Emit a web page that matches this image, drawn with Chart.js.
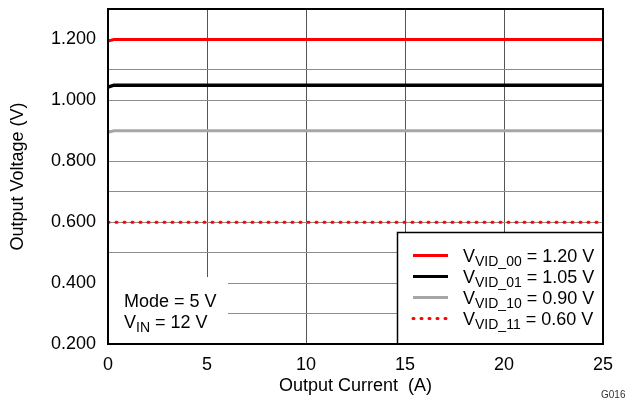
<!DOCTYPE html>
<html>
<head>
<meta charset="utf-8">
<script src="https://cdn.jsdelivr.net/npm/chart.js@4/dist/chart.umd.min.js"></script>
<style>
  html, body { margin: 0; padding: 0; background: #fff; }
  #wrap { width: 626px; height: 402px; position: relative; }
</style>
</head>
<body>
<div id="wrap"><canvas id="c" width="626" height="402"></canvas></div>
<script>
// Output current sample points (A)
const currents = [0, 0.3, 1, 5, 10, 15, 20, 25];
// Output voltage (V) for each VID setting
const vid00 = [1.195, 1.2, 1.2, 1.2, 1.2, 1.2, 1.2, 1.2];
const vid01 = [1.044, 1.05, 1.05, 1.05, 1.05, 1.05, 1.05, 1.05];
const vid10 = [0.895, 0.9, 0.9, 0.9, 0.9, 0.9, 0.9, 0.9];
const vid11 = [0.6, 0.6, 0.6, 0.6, 0.6, 0.6, 0.6, 0.6];

const seriesNames = [
  { main: 'V', sub: 'VID_00', rest: ' = 1.20 V' },
  { main: 'V', sub: 'VID_01', rest: ' = 1.05 V' },
  { main: 'V', sub: 'VID_10', rest: ' = 0.90 V' },
  { main: 'V', sub: 'VID_11', rest: ' = 0.60 V' }
];
const conditionLines = [
  { main: 'Mode = 5 V', sub: '', rest: '' },
  { main: 'V', sub: 'IN', rest: ' = 12 V' }
];

const FONT = '"Liberation Sans", Arial, sans-serif';

function pts(ys) { return currents.map((x, i) => ({ x: x, y: ys[i] })); }

function drawRich(ctx, x, y, item, size, subSize) {
  ctx.textBaseline = 'alphabetic';
  ctx.textAlign = 'left';
  ctx.fillStyle = '#000';
  ctx.font = size + 'px ' + FONT;
  ctx.fillText(item.main, x, y);
  x += ctx.measureText(item.main).width;
  if (item.sub) {
    ctx.font = subSize + 'px ' + FONT;
    ctx.fillText(item.sub, x, y + 4);
    x += ctx.measureText(item.sub).width;
  }
  if (item.rest) {
    ctx.font = size + 'px ' + FONT;
    ctx.fillText(item.rest, x, y);
  }
}

const panels = {
  id: 'panels',
  beforeDatasetsDraw(chart) {
    const ctx = chart.ctx;
    const a = chart.chartArea;
    ctx.save();
    // condition note background
    ctx.fillStyle = '#fff';
    ctx.fillRect(a.left, 277, 120, a.bottom - 277);
    // legend box
    ctx.fillRect(397, 232, a.right - 397, a.bottom - 232);
    ctx.restore();
  },
  afterDatasetsDraw(chart) {
    const ctx = chart.ctx;
    const a = chart.chartArea;
    const ds = chart.data.datasets;
    ctx.save();
    // legend frame
    ctx.strokeStyle = '#000';
    ctx.lineWidth = 1.5;
    ctx.strokeRect(397.5, 232.5, a.right - 397.5, a.bottom - 232.5);
    const rows = [262, 283, 304, 325];
    rows.forEach((by, i) => {
      const d = ds[i];
      ctx.beginPath();
      ctx.strokeStyle = d.borderColor;
      ctx.lineWidth = 3;
      ctx.lineCap = d.borderDash ? 'round' : 'butt';
      ctx.setLineDash(d.borderDash || []);
      const ly = by - 6.5;
      ctx.moveTo(413, ly);
      ctx.lineTo(448, ly);
      ctx.stroke();
      ctx.setLineDash([]);
      drawRich(ctx, 463, by, seriesNames[i], 18, 14);
    });
    // conditions
    drawRich(ctx, 124, 307, conditionLines[0], 18, 14);
    drawRich(ctx, 124, 328, conditionLines[1], 18, 14);
    // plot frame
    ctx.strokeStyle = '#000';
    ctx.lineWidth = 2;
    ctx.strokeRect(a.left, a.top, a.right - a.left, a.bottom - a.top);
    // figure id
    ctx.fillStyle = '#333';
    ctx.font = '10px ' + FONT;
    ctx.textAlign = 'left';
    ctx.fillText('G016', 601, 398);
    ctx.restore();
  }
};

new Chart(document.getElementById('c'), {
  type: 'line',
  data: {
    datasets: [
      { data: pts(vid00), borderColor: '#ff0000', borderWidth: 3 },
      { data: pts(vid01), borderColor: '#000000', borderWidth: 3.5 },
      { data: pts(vid10), borderColor: '#a6a6a6', borderWidth: 3 },
      { data: pts(vid11), borderColor: '#ff0000', borderWidth: 3, borderDash: [1, 7], borderCapStyle: 'round' }
    ]
  },
  options: {
    responsive: false,
    animation: false,
    events: [],
    layout: { padding: { top: 9, right: 23, left: 0, bottom: 0 } },
    elements: { point: { radius: 0 }, line: { tension: 0 } },
    plugins: { legend: { display: false }, tooltip: { enabled: false } },
    scales: {
      x: {
        type: 'linear', min: 0, max: 25,
        afterFit(s) { s.height = 58; s.paddingLeft = 0; s.paddingRight = 0; },
        grid: { color: '#555', lineWidth: 1, drawTicks: false },
        border: { display: false },
        ticks: { stepSize: 5, padding: 10, color: '#000', font: { family: FONT, size: 18 } },
        title: { display: true, text: 'Output Current  (A)', color: '#000', padding: { top: 0, bottom: 5 }, font: { family: FONT, size: 18 } }
      },
      y: {
        type: 'linear', min: 0.2, max: 1.3,
        afterFit(s) { s.width = 108; s.paddingTop = 0; s.paddingBottom = 0; },
        grid: { color: '#8c8c8c', lineWidth: 1, drawTicks: false },
        border: { display: false },
        ticks: {
          stepSize: 0.1, autoSkip: false, padding: 12, color: '#000',
          font: { family: FONT, size: 18 },
          callback: v => (Math.round(v * 10) % 2 === 0) ? v.toFixed(3) : ''
        },
        title: { display: true, text: 'Output Voltage (V)', color: '#000', padding: { top: 7, bottom: 0 }, font: { family: FONT, size: 18 } }
      }
    }
  },
  plugins: [panels]
});
</script>
</body>
</html>
